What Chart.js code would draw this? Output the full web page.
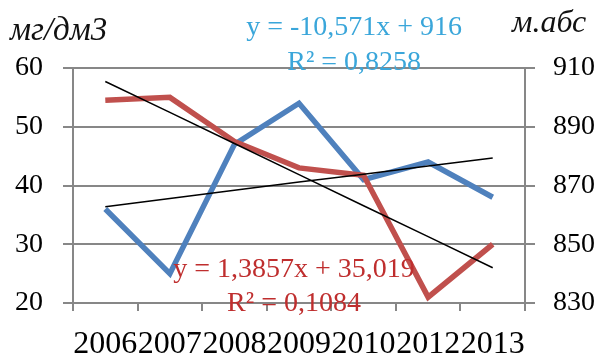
<!DOCTYPE html>
<html>
<head>
<meta charset="utf-8">
<script src="https://cdn.jsdelivr.net/npm/chart.js@4.4.1/dist/chart.umd.min.js"></script>
<style>
html,body{margin:0;padding:0;background:#fff;}
#wrap{width:603px;height:353px;position:relative;}
</style>
</head>
<body>
<div id="wrap"><canvas id="c" width="603" height="353"></canvas></div>
<script>
const categories = ['2006','2007','2008','2009','2010','2012','2013'];
const seriesLeft = [36, 25, 47, 54, 41, 44, 38];          // мг/дм3 (blue)
const seriesRight = [899, 900, 885, 876, 873.5, 832, 850]; // м.абс (red)
const trendLeft = [36.4, 37.8, 39.2, 40.6, 41.9, 43.3, 44.7];
const trendRight = [905.4, 894.9, 884.3, 873.7, 863.1, 852.6, 842.0];
const leftTicks = [20, 30, 40, 50, 60];
const rightTicks = [830, 850, 870, 890, 910];
const leftTitle = 'мг/дм3';
const rightTitle = 'м.абс';
const eqBlue = ['y = -10,571x + 916', 'R² = 0,8258'];
const eqRed = ['y = 1,3857x + 35,019', 'R² = 0,1084'];

const FONT = '"Liberation Serif", "Times New Roman", serif';
const GRID = '#878787';

const textPlugin = {
  id: 'texts',
  afterDraw(chart) {
    const ctx = chart.ctx;
    const a = chart.chartArea;
    ctx.save();
    ctx.textBaseline = 'alphabetic';
    ctx.fillStyle = '#111';
    ctx.font = 'italic 33px ' + FONT;
    ctx.textAlign = 'left';
    ctx.fillText(leftTitle, a.left - 63, a.top - 28);
    ctx.font = 'italic 32px ' + FONT;
    ctx.fillText(rightTitle, a.right - 13, a.top - 36);
    ctx.font = '28px ' + FONT;
    ctx.textAlign = 'center';
    ctx.fillStyle = '#3AA6DA';
    const bx = a.left + (a.right - a.left) * 0.622;
    ctx.fillText(eqBlue[0], bx, a.top - 33);
    ctx.fillText(eqBlue[1], bx, a.top + 2);
    ctx.fillStyle = '#BF2E2E';
    const rx = a.left + (a.right - a.left) * 0.489;
    ctx.fillText(eqRed[0], rx, a.bottom - 26);
    ctx.fillText(eqRed[1], rx, a.bottom + 8);
    ctx.restore();
  }
};

new Chart(document.getElementById('c'), {
  type: 'line',
  data: {
    labels: categories,
    datasets: [
      { data: trendRight, yAxisID: 'y1', borderColor: '#000', borderWidth: 1.5, pointRadius: 0, order: 0 },
      { data: trendLeft, yAxisID: 'y', borderColor: '#000', borderWidth: 1.5, pointRadius: 0, order: 0 },
      { data: seriesRight, yAxisID: 'y1', borderColor: '#C0504D', borderWidth: 5.5, pointRadius: 0, order: 1, borderJoinStyle: 'miter' },
      { data: seriesLeft, yAxisID: 'y', borderColor: '#4F81BD', borderWidth: 5.5, pointRadius: 0, order: 2, borderJoinStyle: 'miter' }
    ]
  },
  options: {
    responsive: false,
    animation: false,
    events: [],
    layout: { padding: { top: 68, left: 0, right: 0, bottom: 0 } },
    plugins: { legend: { display: false }, tooltip: { enabled: false } },
    elements: { line: { tension: 0 } },
    scales: {
      x: {
        offset: true,
        grid: { display: true, drawOnChartArea: false, color: GRID, lineWidth: 2, tickLength: 8, offset: true },
        border: { display: true, color: GRID, width: 2 },
        ticks: { color: '#000', font: { family: FONT, size: 32 }, padding: 14, maxRotation: 0, autoSkip: false },
        afterFit(s) { s.height = 50; }
      },
      y: {
        position: 'left',
        min: 20, max: 60,
        afterBuildTicks(s) { s.ticks = leftTicks.map(v => ({ value: v })); },
        grid: { color: GRID, lineWidth: 2, tickLength: 10 },
        border: { display: true, color: GRID, width: 2 },
        ticks: { color: '#000', font: { family: FONT, size: 28 }, padding: 20 },
        afterFit(s) { s.width = 73; }
      },
      y1: {
        position: 'right',
        min: 830, max: 910,
        afterBuildTicks(s) { s.ticks = rightTicks.map(v => ({ value: v })); },
        grid: { drawOnChartArea: false, color: GRID, lineWidth: 2, tickLength: 10 },
        border: { display: true, color: GRID, width: 2 },
        ticks: { color: '#000', font: { family: FONT, size: 28 }, padding: 18 },
        afterFit(s) { s.width = 78; }
      }
    }
  },
  plugins: [textPlugin]
});
</script>
</body>
</html>
